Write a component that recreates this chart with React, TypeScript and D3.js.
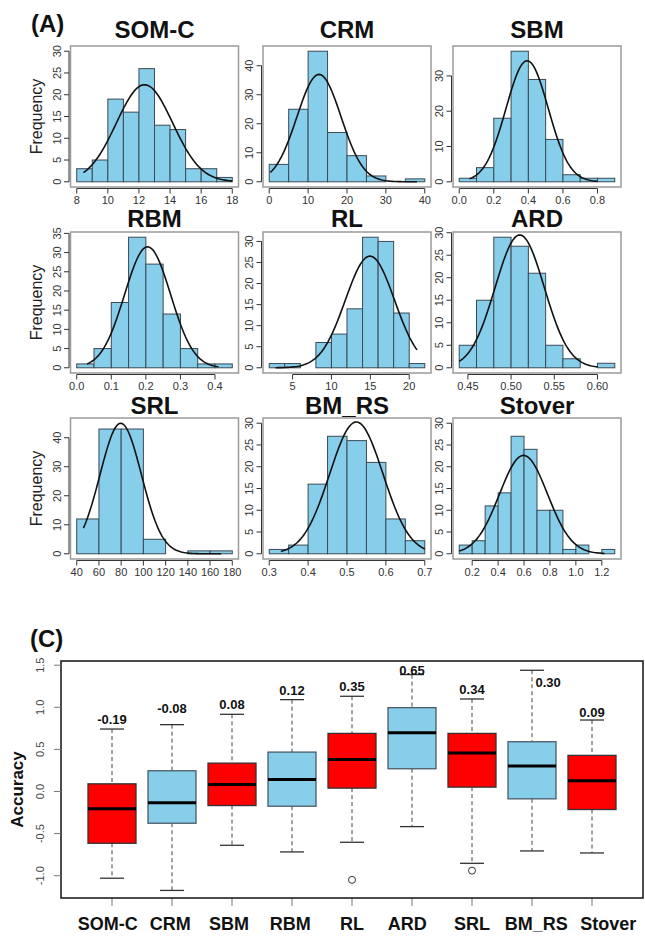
import * as d3 from 'd3';

// ---- histogram data (panel A) ----
const histTitles = ['SOM-C', 'CRM', 'SBM', 'RBM', 'RL', 'ARD', 'SRL', 'BM_RS', 'Stover'];
const histBreakStart = [8, 0, 0, 0, 2, 0.44, 40, 0.3, 0.1];
const histBinWidth = [1, 5, 0.1, 0.05, 2, 0.02, 20, 0.05, 0.1];
const histCounts = [
  [3, 5, 19, 16, 26, 13, 12, 3, 3, 1],
  [6, 25, 45, 17, 9, 2, 0, 1],
  [1, 4, 18, 37, 29, 12, 2, 1, 1],
  [1, 5, 17, 34, 27, 14, 5, 1, 1],
  [1, 1, 0, 6, 8, 14, 31, 30, 13, 1],
  [5, 15, 29, 27, 21, 5, 2, 0, 1],
  [12, 43, 43, 5, 0, 1, 1],
  [1, 2, 16, 27, 26, 21, 8, 3],
  [2, 3, 11, 14, 27, 24, 10, 10, 1, 2, 0, 1],
];
const histYMax = [30, 45, 37, 34, 31, 29, 45, 30, 30];
const histYTicks = [
  [0, 5, 10, 15, 20, 25, 30],
  [0, 10, 20, 30, 40],
  [0, 10, 20, 30],
  [0, 5, 10, 15, 20, 25, 30, 35],
  [0, 5, 10, 15, 20, 25, 30],
  [0, 5, 10, 15, 20, 25, 30],
  [0, 10, 20, 30, 40],
  [0, 5, 10, 15, 20, 25, 30],
  [0, 5, 10, 15, 20, 25, 30],
];
const histXTicks = [
  ['8', '10', '12', '14', '16', '18'],
  ['0', '10', '20', '30', '40'],
  ['0.0', '0.2', '0.4', '0.6', '0.8'],
  ['0.0', '0.1', '0.2', '0.3', '0.4'],
  ['5', '10', '15', '20'],
  ['0.45', '0.50', '0.55', '0.60'],
  ['40', '60', '80', '100', '120', '140', '160', '180'],
  ['0.3', '0.4', '0.5', '0.6', '0.7'],
  ['0.2', '0.4', '0.6', '0.8', '1.0', '1.2'],
];
// fitted normal curve overlay
const curveMean = [12.36, 12.8, 0.393, 0.205, 14.95, 0.51, 79.6, 0.524, 0.596];
const curveSd = [1.807, 5.66, 0.1221, 0.0665, 3.16, 0.0284, 18.62, 0.0685, 0.1853];
const curveFrom = [8.43, 0.3, 0.06, 0.03, 2.8, 0.44, 46, 0.33, 0.1];
const curveTo = [18, 38, 0.8, 0.41, 21, 0.6, 170, 0.7, 1.22];

// ---- boxplot data (panel C) ----
const boxCats = ['SOM-C', 'CRM', 'SBM', 'RBM', 'RL', 'ARD', 'SRL', 'BM_RS', 'Stover'];
const boxLow = [-1.03, -1.175, -0.639, -0.718, -0.603, -0.417, -0.853, -0.706, -0.73];
const boxQ1 = [-0.615, -0.377, -0.167, -0.175, 0.04, 0.27, 0.052, -0.087, -0.214];
const boxMed = [-0.206, -0.135, 0.083, 0.143, 0.381, 0.698, 0.456, 0.302, 0.127];
const boxQ3 = [0.091, 0.246, 0.337, 0.468, 0.69, 0.996, 0.69, 0.591, 0.429];
const boxHigh = [0.742, 0.794, 0.917, 1.091, 1.131, 1.389, 1.099, 1.44, 0.849];
const boxOutliers = [[], [], [], [], [-1.05], [], [-0.94], [], []];
const boxFill = ['red', 'skyblue', 'red', 'skyblue', 'red', 'skyblue', 'red', 'skyblue', 'red'];
const catLabelX = [0.93, 1.97, 2.95, 3.97, 5.0, 5.92, 7.0, 8.07, 9.27];
const meanLabels = ['-0.19', '-0.08', '0.08', '0.12', '0.35', '0.65', '0.34', '0.30', '0.09'];
const meanLabelX = [1, 2, 3, 4, 5, 6, 7, 8.27, 9];
const meanLabelY = [0.853, 0.984, 1.032, 1.202, 1.242, 1.44, 1.21, 1.3, 0.944];
const accTicks = [-1.0, -0.5, 0.0, 0.5, 1.0, 1.5];

const FONT = "'Liberation Sans', Arial, Helvetica, sans-serif";
const colX = [70.5, 263, 453];
const rowY = [46, 232, 418];
const PW = 168;
const PH = 141;

function Histogram({ i }: { i: number }) {
  const x0 = colX[i % 3];
  const y0 = rowY[Math.floor(i / 3)];
  const counts = histCounts[i];
  const bw = histBinWidth[i];
  const b0 = histBreakStart[i];
  const b1 = b0 + bw * counts.length;
  const ext = (b1 - b0) * 0.04;
  const x = d3.scaleLinear().domain([b0 - ext, b1 + ext]).range([x0, x0 + PW]);
  const ymax = histYMax[i];
  const y = d3.scaleLinear().domain([-0.04 * ymax, 1.04 * ymax]).range([y0 + PH, y0]);

  const n = d3.sum(counts);
  const mu = curveMean[i];
  const sd = curveSd[i];
  const xs = d3.range(0, 101).map((k) => curveFrom[i] + ((curveTo[i] - curveFrom[i]) * k) / 100);
  const line = d3
    .line<number>()
    .x((v) => x(v))
    .y((v) => y((n * bw * Math.exp(-0.5 * ((v - mu) / sd) ** 2)) / (sd * Math.sqrt(2 * Math.PI))));

  const yt = histYTicks[i];
  const xt = histXTicks[i].map(Number);
  const axX = x0 - 1.5;
  const axY = y0 + PH + 1.5;

  return (
    <g>
      <text x={x0 + PW / 2} y={y0 - [8, 5, 4][Math.floor(i / 3)]} textAnchor="middle" fontSize={24} fontWeight="bold" fill="#111">
        {histTitles[i]}
      </text>
      {counts.map((c, k) => (
        <rect
          key={k}
          x={x(b0 + k * bw)}
          y={y(c)}
          width={x(b0 + (k + 1) * bw) - x(b0 + k * bw)}
          height={y(0) - y(c)}
          fill="#87CEEB"
          stroke="#3a4a55"
          strokeWidth={1}
        />
      ))}
      <path d={line(xs) || ''} fill="none" stroke="#111" strokeWidth={1.6} />
      <rect x={x0} y={y0} width={PW} height={PH} fill="none" stroke="#9a9a9a" strokeWidth={1.5} />
      {/* y axis */}
      <line x1={axX} x2={axX} y1={y(yt[0])} y2={y(yt[yt.length - 1])} stroke="#333" />
      {yt.map((t) => (
        <g key={t}>
          <line x1={axX} x2={axX - 5} y1={y(t)} y2={y(t)} stroke="#333" />
          <text
            transform={`translate(${x0 - 10},${y(t)}) rotate(-90)`}
            textAnchor="middle"
            fontSize={11}
            fill="#333"
          >
            {t}
          </text>
        </g>
      ))}
      {/* x axis */}
      <line x1={x(xt[0])} x2={x(xt[xt.length - 1])} y1={axY} y2={axY} stroke="#333" />
      {xt.map((t, k) => (
        <g key={k}>
          <line x1={x(t)} x2={x(t)} y1={axY} y2={axY + 5} stroke="#333" />
          <text x={x(t)} y={y0 + PH + 17} textAnchor="middle" fontSize={11} fill="#333">
            {histXTicks[i][k]}
          </text>
        </g>
      ))}
      {i % 3 === 0 && (
        <text
          transform={`translate(${x0 - 29},${y0 + PH / 2}) rotate(-90)`}
          textAnchor="middle"
          fontSize={16}
          fill="#222"
        >
          Frequency
        </text>
      )}
    </g>
  );
}

function BoxPlot() {
  const left = 61;
  const right = 643;
  const top = 661;
  const bottom = 898;
  const x = d3.scaleLinear().domain([0.15, 9.85]).range([left, right]);
  const y = d3.scaleLinear().domain([-1.265, 1.55]).range([bottom, top]);
  const half = x(1.4) - x(1);
  const cap = x(1.2) - x(1);

  return (
    <g>
      <text x={30} y={647} fontSize={24} fontWeight="bold" fill="#111">(C)</text>
      {boxCats.map((c, i) => {
        const cx = x(i + 1);
        const red = boxFill[i] === 'red';
        return (
          <g key={c}>
            <line x1={cx} x2={cx} y1={y(boxHigh[i])} y2={y(boxQ3[i])} stroke="#444" strokeDasharray="4,3" />
            <line x1={cx} x2={cx} y1={y(boxQ1[i])} y2={y(boxLow[i])} stroke="#444" strokeDasharray="4,3" />
            <line x1={cx - cap} x2={cx + cap} y1={y(boxHigh[i])} y2={y(boxHigh[i])} stroke="#333" strokeWidth={1.3} />
            <line x1={cx - cap} x2={cx + cap} y1={y(boxLow[i])} y2={y(boxLow[i])} stroke="#333" strokeWidth={1.3} />
            <rect
              x={cx - half}
              y={y(boxQ3[i])}
              width={half * 2}
              height={y(boxQ1[i]) - y(boxQ3[i])}
              fill={red ? '#FF0000' : '#87CEEB'}
              stroke={red ? '#333' : '#4a5a66'}
              strokeWidth={1.3}
            />
            <line x1={cx - half} x2={cx + half} y1={y(boxMed[i])} y2={y(boxMed[i])} stroke="#000" strokeWidth={3} />
            {boxOutliers[i].map((o, k) => (
              <circle key={k} cx={cx} cy={y(o)} r={3.5} fill="none" stroke="#333" strokeWidth={1} />
            ))}
            <text x={x(meanLabelX[i])} y={y(meanLabelY[i])} dy="0.35em" textAnchor="middle" fontSize={13} fontWeight="bold" fill="#111">
              {meanLabels[i]}
            </text>
            <line x1={cx} x2={cx} y1={bottom} y2={bottom + 8} stroke="#777" />
            <text x={x(catLabelX[i])} y={930} textAnchor="middle" fontSize={18} fontWeight="bold" fill="#111">
              {c}
            </text>
          </g>
        );
      })}
      <rect x={left} y={top} width={right - left} height={bottom - top} fill="none" stroke="#111" strokeWidth={1.5} />
      {accTicks.map((t) => (
        <g key={t}>
          <line x1={left} x2={left - 7} y1={y(t)} y2={y(t)} stroke="#777" />
          <text transform={`translate(${left - 21},${y(t)}) rotate(-90)`} textAnchor="middle" dy="0.35em" fontSize={11} fill="#444">
            {t.toFixed(1)}
          </text>
        </g>
      ))}
      <text transform={`translate(23,${(top + bottom) / 2 + 10}) rotate(-90)`} textAnchor="middle" fontSize={17} fontWeight="bold" fill="#111">
        Accuracy
      </text>
    </g>
  );
}

export default function App() {
  return (
    <div style={{ position: 'absolute', left: 0, top: 0 }}>
      <svg width={645} height={951} style={{ display: 'block', background: '#fff', fontFamily: FONT }}>
        <text x={31} y={32} fontSize={24} fontWeight="bold" fill="#111">(A)</text>
        {histTitles.map((_, i) => (
          <Histogram key={i} i={i} />
        ))}
        <BoxPlot />
      </svg>
    </div>
  );
}
